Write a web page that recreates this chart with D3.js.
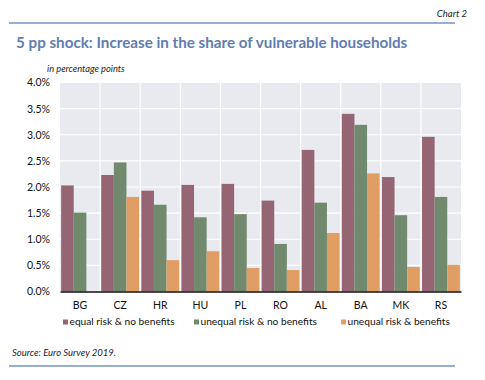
<!DOCTYPE html>
<html>
<head>
<meta charset="utf-8">
<script src="https://cdn.jsdelivr.net/npm/d3@7"></script>
<style>
  body { margin: 0; background: #fff; }
  svg { display: block; font-family: "Lato", "Open Sans", sans-serif; }
</style>
</head>
<body>
<svg width="485" height="380"></svg>
<script>
// data
var countries = ["BG", "CZ", "HR", "HU", "PL", "RO", "AL", "BA", "MK", "RS"];
var seriesNames = ["equal risk & no benefits", "unequal risk & no benefits", "unequal risk & benefits"];
var equalNoBen = [2.03, 2.23, 1.93, 2.04, 2.06, 1.74, 2.71, 3.40, 2.19, 2.96];
var unequalNoBen = [1.51, 2.47, 1.66, 1.42, 1.48, 0.91, 1.70, 3.19, 1.46, 1.81];
var unequalBen = [null, 1.81, 0.60, 0.77, 0.45, 0.41, 1.12, 2.26, 0.47, 0.51];
var yTicks = [0, 0.5, 1, 1.5, 2, 2.5, 3, 3.5, 4];

var colors = ["#956573", "#718a6e", "#e09d64"];
var series = [equalNoBen, unequalNoBen, unequalBen];

var svg = d3.select("svg");
var plotL = 60, plotR = 461, plotT = 82.5, plotB = 291.5;

// header
svg.append("text").attr("x", 467).attr("y", 17).attr("text-anchor", "end")
    .attr("font-size", 9.5).attr("font-style", "italic").attr("fill", "#222").text("Chart 2");
svg.append("line").attr("x1", 9).attr("x2", 455).attr("y1", 23).attr("y2", 23)
    .attr("stroke", "#7592c4").attr("stroke-width", 1.5);
svg.append("text").attr("x", 16).attr("y", 48)
    .attr("font-size", 15.2).attr("font-weight", "bold").attr("fill", "#5f7db0")
    .text("5 pp shock: Increase in the share of vulnerable households");
svg.append("text").attr("x", 47).attr("y", 71.5)
    .attr("font-size", 9.3).attr("font-style", "italic").attr("fill", "#222")
    .text("in percentage points");

var x = d3.scaleBand().domain(countries).range([plotL, plotR]).paddingInner(0).paddingOuter(0);
var xs = d3.scaleBand().domain([0, 1, 2]).range([0, x.bandwidth()]).paddingOuter(0.09);
var y = d3.scaleLinear().domain([0, 4]).range([plotB, plotT]);

// plot background + grid
svg.append("rect").attr("x", plotL).attr("y", plotT).attr("width", plotR - plotL).attr("height", plotB - plotT)
    .attr("fill", "#e8eaf0");
svg.append("g").selectAll("line").data(yTicks.slice(1)).enter().append("line")
    .attr("x1", plotL).attr("x2", plotR)
    .attr("y1", function(d) { return y(d); }).attr("y2", function(d) { return y(d); })
    .attr("stroke", "#fff").attr("stroke-width", 1.2);
svg.append("g").selectAll("line").data(countries.slice(1)).enter().append("line")
    .attr("x1", function(d) { return x(d); }).attr("x2", function(d) { return x(d); })
    .attr("y1", plotT).attr("y2", plotB)
    .attr("stroke", "#fff").attr("stroke-width", 1.2);

// bars
series.forEach(function(vals, si) {
    svg.append("g").selectAll("rect")
        .data(vals.map(function(v, i) { return {c: countries[i], v: v}; }).filter(function(d) { return d.v != null; }))
        .enter().append("rect")
        .attr("x", function(d) { return x(d.c) + xs(si); })
        .attr("width", xs.bandwidth())
        .attr("y", function(d) { return y(d.v); })
        .attr("height", function(d) { return y(0) - y(d.v); })
        .attr("fill", colors[si]);
});

// axes
var yAxis = svg.append("g").attr("transform", "translate(" + plotL + ",0)")
    .call(d3.axisLeft(y).tickValues(yTicks).tickSize(0).tickPadding(10)
        .tickFormat(function(d) { return d.toFixed(1) + "%"; }));
yAxis.select(".domain").remove();
yAxis.selectAll("text").attr("font-size", 10.5).attr("fill", "#111").attr("font-family", "Lato, sans-serif");

var xAxis = svg.append("g").attr("transform", "translate(0," + plotB + ")")
    .call(d3.axisBottom(x).tickSize(0).tickPadding(10));
xAxis.select(".domain").attr("stroke", "#111").attr("stroke-width", 1.3);
xAxis.selectAll("text").attr("font-size", 10.5).attr("fill", "#111").attr("font-family", "Lato, sans-serif");

// legend
var legX = [63, 194, 341];
var leg = svg.append("g").selectAll("g").data(seriesNames).enter().append("g")
    .attr("transform", function(d, i) { return "translate(" + legX[i] + ",325)"; });
leg.append("rect").attr("x", 0).attr("y", -5.5).attr("width", 5).attr("height", 5)
    .attr("fill", function(d, i) { return colors[i]; });
leg.append("text").attr("x", 6.5).attr("y", 0).attr("font-size", 10.2).attr("fill", "#111")
    .text(function(d) { return d; });

// footer
svg.append("text").attr("x", 12).attr("y", 356)
    .attr("font-size", 9.5).attr("font-style", "italic").attr("fill", "#222")
    .text("Source: Euro Survey 2019.");
svg.append("line").attr("x1", 9).attr("x2", 455).attr("y1", 366).attr("y2", 366)
    .attr("stroke", "#7592c4").attr("stroke-width", 1.5);
</script>
</body>
</html>
